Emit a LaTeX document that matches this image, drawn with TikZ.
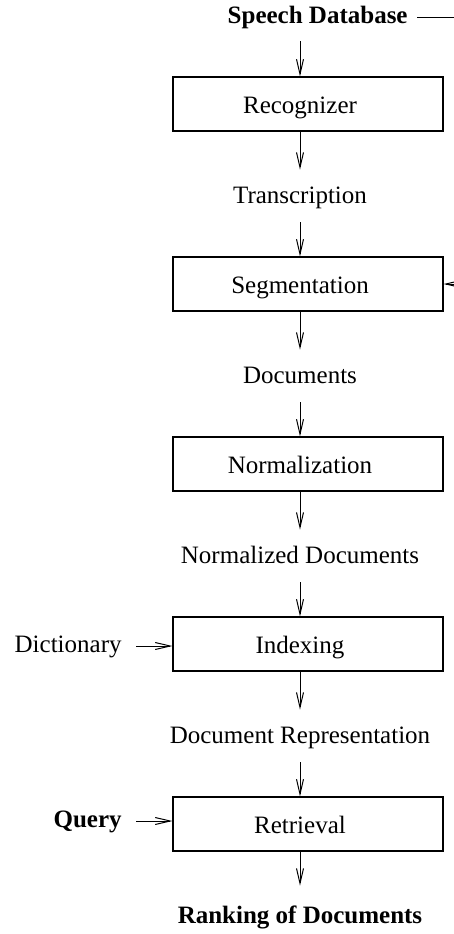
\documentclass[tikz,border=0pt]{standalone}
\usepackage{fontspec}
\setmainfont{Liberation Serif}
\usetikzlibrary{arrows.meta}

\tikzset{
  stage/.style={shape=rectangle, draw, line width=0.6pt, minimum width=135pt, minimum height=27pt, inner sep=0pt},
  txt/.style={inner sep=0pt, text height=8.5pt, text depth=2.5pt},
  arr/.style={line width=0.5pt, -{Straight Barb[length=7.5pt,width=3.5pt]}},
}

\begin{document}
\begin{tikzpicture}[x=0.5pt, y=-0.5pt, font=\fontsize{12.5}{15}\selectfont]
  \useasboundingbox (0,0) rectangle (454,934);
  % boxes and texts:
  \coordinate (edge) at (454,0);
  \node[txt, anchor=east] (sdb) at (408,17) {\textbf{Speech Database}};
  \node[stage] (rec) at (308,104) {}; \node[txt] (recT) at (300,107) {Recognizer};
  \node[txt] (tra) at (300,197) {Transcription};
  \node[stage] (seg) at (308,284) {}; \node[txt] (segT) at (300,287) {Segmentation};
  \node[txt] (doc) at (300,377) {Documents};
  \node[stage] (nor) at (308,464) {}; \node[txt] (norT) at (300,467) {Normalization};
  \node[txt] (ndoc) at (300,557) {Normalized Documents};
  \node[stage] (idx) at (308,644) {}; \node[txt] (idxT) at (300,647) {Indexing};
  \node[txt, anchor=east] (dic) at (122,646) {Dictionary};
  \node[txt] (drep) at (300,737) {Document Representation};
  \node[stage] (ret) at (308,824) {}; \node[txt] (retT) at (300,827) {Retrieval};
  \node[txt, anchor=east] (qry) at (122,821) {\textbf{Query}};
  \node[txt] (rank) at (300,917) {\textbf{Ranking of Documents}};
  % connectors:
  \draw[line width=0.5pt, shorten <=4.5pt] (sdb.east) -- (sdb.east -| edge);
  \draw[arr, shorten <=6.5pt] (sdb.south -| recT) -- (recT |- rec.north);
  \draw[arr, shorten >=8pt] (recT |- rec.south) -- (tra.north);
  \draw[arr, shorten <=7pt] (tra.south) -- (tra |- seg.north);
  \draw[arr] (seg.east -| edge) -- (seg.east);
  \draw[arr, shorten >=8pt] (segT |- seg.south) -- (doc.north);
  \draw[arr, shorten <=7pt] (doc.south) -- (doc |- nor.north);
  \draw[arr, shorten >=8pt] (norT |- nor.south) -- (ndoc.north);
  \draw[arr, shorten <=7pt] (ndoc.south) -- (ndoc |- idx.north);
  \draw[arr, shorten <=7pt] (dic.east) -- (dic.east -| idx.west);
  \draw[arr, shorten >=8pt] (idxT |- idx.south) -- (drep.north);
  \draw[arr, shorten <=7pt] (drep.south) -- (drep |- ret.north);
  \draw[arr, shorten <=7pt] (qry.east) -- (qry.east -| ret.west);
  \draw[arr, shorten >=10pt] (retT |- ret.south) -- (rank.north);
\end{tikzpicture}
\end{document}
